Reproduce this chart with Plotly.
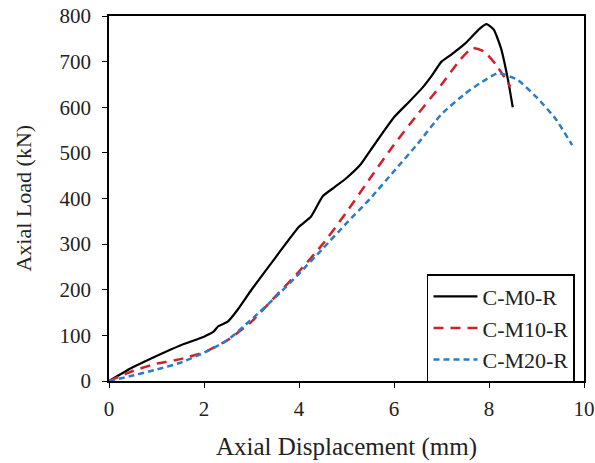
import plotly.graph_objects as go

# C-M0-R
x_m0 = [0, 0.5, 1.0, 1.5, 2.0, 2.2, 2.3, 2.5, 2.7, 3.0, 3.5, 4.0, 4.25, 4.5, 4.75, 5.0, 5.3, 5.5, 6.0, 6.3, 6.6, 6.8, 7.0, 7.2, 7.5, 7.8, 7.95, 8.1, 8.25, 8.4, 8.5]
y_m0 = [0, 30, 55, 78, 97, 108, 120, 130, 155, 200, 270, 338, 360, 405, 425, 445, 475, 505, 578, 610, 643, 670, 700, 715, 740, 772, 782, 770, 730, 660, 600]

# C-M10-R
x_m10 = [0, 0.5, 1.0, 1.5, 2.0, 2.5, 3.0, 3.5, 4.0, 4.5, 5.0, 5.5, 6.0, 6.5, 7.0, 7.4, 7.65, 7.9, 8.15, 8.45]
y_m10 = [0, 22, 38, 48, 63, 90, 130, 185, 240, 300, 370, 445, 518, 585, 650, 705, 730, 722, 693, 645]

# C-M20-R
x_m20 = [0, 0.5, 1.0, 1.5, 2.0, 2.5, 3.0, 3.5, 4.0, 4.5, 5.0, 5.5, 6.0, 6.5, 7.0, 7.5, 7.8, 8.2, 8.6, 9.0, 9.4, 9.75]
y_m20 = [0, 12, 25, 40, 62, 90, 135, 183, 235, 290, 346, 400, 460, 520, 585, 630, 652, 675, 660, 622, 575, 517]

x_ticks = [0, 2, 4, 6, 8, 10]
y_ticks = [0, 100, 200, 300, 400, 500, 600, 700, 800]

FONT = "Liberation Serif"

fig = go.Figure()
fig.add_trace(go.Scatter(x=x_m0, y=y_m0, mode="lines", name="C-M0-R",
                         line=dict(color="black", width=2.2, shape="spline", smoothing=0.5)))
fig.add_trace(go.Scatter(x=x_m10, y=y_m10, mode="lines", name="C-M10-R",
                         line=dict(color="#d0202a", width=2.5, dash="10px,7px", shape="spline", smoothing=0.5)))
fig.add_trace(go.Scatter(x=x_m20, y=y_m20, mode="lines", name="C-M20-R",
                         line=dict(color="#2a7bc8", width=2.5, dash="6px,4px", shape="spline", smoothing=0.5)))

axis_common = dict(showline=True, linecolor="black", linewidth=1.5, mirror=True,
                   ticks="outside", ticklen=5, tickcolor="black", tickwidth=1.2,
                   showgrid=False, zeroline=False, automargin=False,
                   ticklabeloverflow="allow",
                   tickfont=dict(family=FONT, size=21, color="#222"))

fig.update_xaxes(range=[0, 10], tickvals=x_ticks, ticklabelstandoff=3,
                 title=dict(text="Axial Displacement (mm)", font=dict(family=FONT, size=25, color="#222"), standoff=18),
                 **axis_common)
fig.update_yaxes(range=[0, 800], tickvals=y_ticks, ticklabelstandoff=7,
                 **axis_common)

fig.add_annotation(text="Axial Load (kN)", xref="paper", yref="paper",
                   x=-0.181, y=0.5, xanchor="center", yanchor="middle",
                   textangle=-90, showarrow=False,
                   font=dict(family=FONT, size=22, color="#222"))

fig.update_layout(
    width=595, height=463,
    margin=dict(l=109, r=11, t=16, b=82),
    paper_bgcolor="white", plot_bgcolor="white",
    showlegend=True,
    legend=dict(x=0.981, y=0.145, xanchor="right", yanchor="middle",
                bordercolor="black", borderwidth=1.5, bgcolor="white",
                font=dict(family=FONT, size=22, color="#222"),
                tracegroupgap=0, itemwidth=44),
)

fig.write_html("out.html", config={"displayModeBar": False},
               post_script="document.body.style.margin='0';")
